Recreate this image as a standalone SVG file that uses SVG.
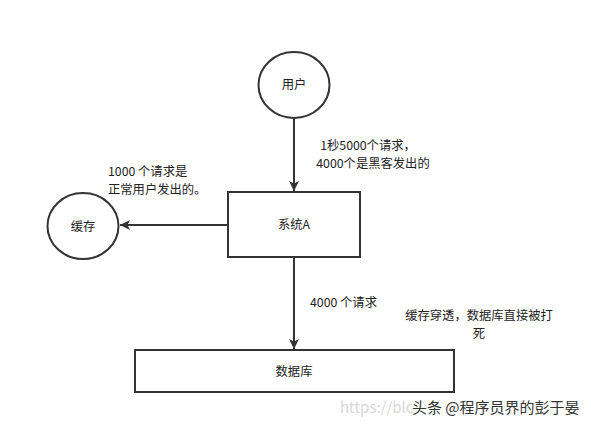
<svg xmlns="http://www.w3.org/2000/svg" width="591" height="424" viewBox="0 0 591 424">
<style>
.shape{fill:#fff;stroke:#333;stroke-width:2}
.edge{stroke:#333;stroke-width:2;fill:none}
text{font-family:"Noto Sans CJK SC","Noto Sans",sans-serif;font-size:12.3px;fill:#222;dominant-baseline:central}
.c{text-anchor:middle}
</style>
<defs>
<marker id="arr" viewBox="0 0 10 10" refX="10" refY="5" markerWidth="10" markerHeight="10" markerUnits="userSpaceOnUse" orient="auto">
<path d="M0,0 L10,5 L0,10 L2.5,5 Z" fill="#333"/>
</marker>
</defs>
<rect width="591" height="424" fill="#fff"/>
<g id="connectors">
<line class="edge" x1="294" y1="118" x2="294" y2="191" marker-end="url(#arr)"/>
<line class="edge" x1="227" y1="225" x2="120" y2="225" marker-end="url(#arr)"/>
<line class="edge" x1="294" y1="257" x2="294" y2="349" marker-end="url(#arr)"/>
</g>
<g id="user">
<ellipse class="shape" cx="294" cy="85" rx="35.5" ry="33"/>
<text class="c" x="294" y="84">用户</text>
</g>
<g id="cache">
<ellipse class="shape" cx="83" cy="226" rx="35.5" ry="33"/>
<text class="c" x="83" y="226">缓存</text>
</g>
<g id="systemA">
<rect class="shape" x="228" y="192" width="132" height="65"/>
<text class="c" x="294" y="224">系统A</text>
</g>
<g id="database">
<rect class="shape" x="135" y="350" width="319" height="42"/>
<text class="c" x="294" y="371">数据库</text>
</g>
<g id="labels">
<text class="c" x="368" y="145">1秒5000个请求，</text>
<text class="c" x="373" y="163">4000个是黑客发出的</text>
<text x="108" y="171">1000 个请求是</text>
<text x="108" y="189">正常用户发出的。</text>
<text x="310" y="302">4000 个请求</text>
<text class="c" x="479" y="315">缓存穿透，数据库直接被打</text>
<text class="c" x="479" y="333">死</text>
</g>
<g id="watermark">
<text x="340" y="406" style="fill:#d8d8d8;font-size:15px">https://blo</text>
<text x="412" y="406" style="fill:#333;font-size:15px;stroke:#fff;stroke-width:2.5;paint-order:stroke">头条 @程序员界的彭于晏</text>
</g>
</svg>
